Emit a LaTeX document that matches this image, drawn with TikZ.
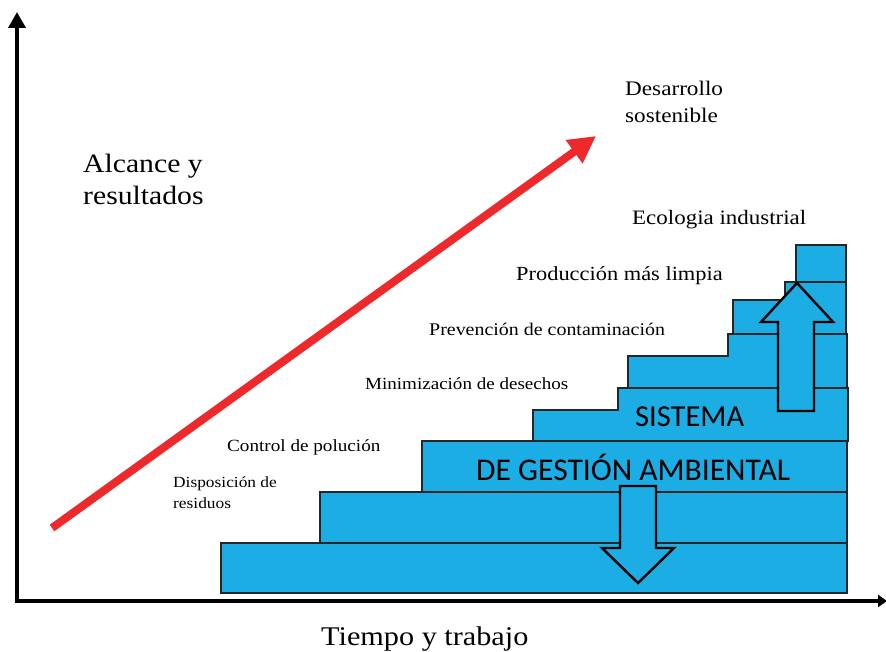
\documentclass[tikz,border=0pt]{standalone}
\usepackage{fontspec}
\setmainfont{Liberation Serif}[FakeStretch=1.12]
\newfontfamily\blocksans{Carlito}
\usetikzlibrary{arrows.meta}

\definecolor{stepblue}{RGB}{28,173,228}
\definecolor{arrowred}{RGB}{237,41,43}

\begin{document}
\begin{tikzpicture}[%
		x=1pt, y=-1pt,
		stepbox/.style={
			fill=stepblue,
			draw=black!85,
			line width=1.3pt
		},
		basebox/.style={
			stepbox,
			line width=2.6pt
		},
		blockarrow/.style={
			fill=stepblue,
			draw=black,
			line width=2.4pt,
			line join=miter
		},
		lbl/.style={
			anchor=base west,
			inner sep=0pt,
			align=left
		},
		bigsans/.style={
			anchor=base west,
			inner sep=0pt,
			font=\blocksans\fontsize{30.5}{34}\selectfont
		},
		axis/.style={
			line width=3.6pt
		}]

		\useasboundingbox (0,0) rectangle (886,652);

		% AXES

		\coordinate (origin) at (17,601);
		\coordinate (ytip) at (17,12);
		\coordinate (xtip) at (887,601);
		\draw[axis, -{Triangle[length=16pt,width=17pt]}] (origin) -- (ytip);
		\draw[axis, -{Triangle[length=9pt,width=12pt]}] ([xshift=-1.8pt]origin) -- (xtip);

		% STEPS

		\draw[basebox] (221,543) rectangle (847,593);
		\draw[basebox, line width=2pt] (320,492) rectangle (847,543);
		\draw[stepbox, line width=1.7pt] (422,441) rectangle (847,492);
		\draw[stepbox] (533,441) -- (533,410) -- (618,410) -- (618,388) -- (848,388) -- (848,441) -- cycle;
		\draw[stepbox] (628,388) -- (628,356) -- (728,356) -- (728,334) -- (847,334) -- (847,388) -- cycle;
		\draw[stepbox] (733,334) -- (733,300) -- (785,300) -- (785,282) -- (846,282) -- (846,334) -- cycle;
		\draw[stepbox] (796,282) rectangle (846,245);

		% BLOCK TEXT

		\node[bigsans] (sistema) at (635,426) {SISTEMA};
		\node[bigsans, font=\blocksans\fontsize{31.6}{34}\selectfont] (gestion) at (476,480) {DE GESTIÓN AMBIENTAL};

		% BLOCK ARROWS

		\draw[blockarrow] (797,283) -- (833,322) -- (814,322) -- (814,411) -- (778,411) -- (778,322) -- (761,322) -- cycle;
		\draw[blockarrow] (620,486) -- (656,486) -- (656,548) -- (674,548) -- (638,583) -- (602,548) -- (620,548) -- cycle;

		% LABELS

		\node[lbl, font=\fontsize{26.5}{32}\selectfont] (alcance) at (83,205) {Alcance y\\resultados};
		\node[lbl, font=\fontsize{20.7}{27}\selectfont] (desarrollo) at (625,123) {Desarrollo\\sostenible};
		\node[lbl, font=\fontsize{20.5}{24}\selectfont] (ecologia) at (632,225) {Ecologia industrial};
		\node[lbl, font=\fontsize{20}{24}\selectfont] (produccion) at (516,280) {Producción más limpia};
		\node[lbl, font=\fontsize{17.8}{22}\selectfont] (prevencion) at (429,335) {Prevención de contaminación};
		\node[lbl, font=\fontsize{17}{22}\selectfont] (minimizacion) at (365,389) {Minimización de desechos};
		\node[lbl, font=\fontsize{17.1}{22}\selectfont] (control) at (227,451) {Control de polución};
		\node[lbl, font=\fontsize{15.5}{20.5}\selectfont] (disposicion) at (173,508) {Disposición de\\residuos};
		\node[lbl, font=\fontsize{27}{32}\selectfont] (tiempo) at (321,645) {Tiempo y trabajo};

		% TREND ARROW

		\coordinate (trendstart) at (52,528);
		\coordinate (trendend) at (596,136);
		\draw[arrowred, line width=8pt, -{Triangle[length=27pt,width=27pt]}] (trendstart) -- (trendend);
\end{tikzpicture}
\end{document}
